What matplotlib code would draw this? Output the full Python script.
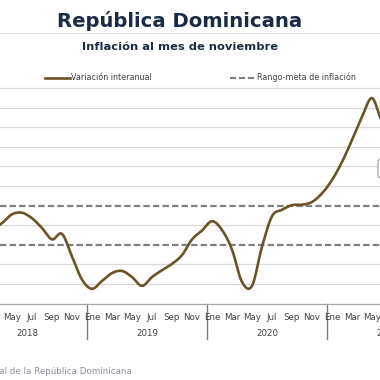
import matplotlib
matplotlib.use('Agg')
import matplotlib.pyplot as plt
import matplotlib.transforms as mtransforms
from matplotlib.lines import Line2D
from matplotlib.patches import FancyBboxPatch
import numpy as np

# ---------------- data ----------------
years = ['2018', '2019', '2020', '2021']
month_labels = ['Ene', 'Mar', 'May', 'Jul', 'Sep', 'Nov']
inflation_2018 = [4.20, 3.95, 3.80, 4.10, 4.55, 4.63, 4.35, 3.85, 3.27, 3.55, 2.40, 1.22]
inflation_2019 = [0.75, 1.15, 1.55, 1.66, 1.35, 0.90, 1.35, 1.70, 2.02, 2.47, 3.27, 3.72]
inflation_2020 = [4.20, 3.75, 2.75, 1.10, 0.90, 2.90, 4.45, 4.78, 5.02, 5.04, 5.18, 5.62]
inflation_2021 = [6.30, 7.22, 8.34, 9.52, 10.48, 9.32, 9.10]
target_low = 3.0
target_high = 5.0
grid_values = [1, 2, 4, 6, 7, 8, 9, 10, 11]
title = 'República Dominicana'
subtitle = 'Inflación al mes de noviembre'
legend_labels = ['Variación interanual', 'Rango-meta de inflación']
source = 'Fuente: Banco Central de la República Dominicana'

values = inflation_2018 + inflation_2019 + inflation_2020 + inflation_2021
idx = np.arange(len(values))

# ---------------- style ----------------
W = H = 380
BROWN = '#6b5426'
NAVY = '#1c2b45'
GRID = '#d9d9d9'
DASH = '#808080'
TXT = '#404040'

fig = plt.figure(figsize=(3.8, 3.8), dpi=100)
fig.patch.set_facecolor('white')

def fy(y):
    return 1 - y / H

# axes geometry in pixels
ax_top, ax_bot = 84.0, 303.5
px_per_unit = 19.6
ax = fig.add_axes([0, fy(ax_bot), 1, (ax_bot - ax_top) / H])
ax.set_xlim(2.8, 40.8)
ax.set_ylim(0, (ax_bot - ax_top) / px_per_unit)
for s in ['top', 'left', 'right']:
    ax.spines[s].set_visible(False)
ax.spines['bottom'].set_color('#a6a6a6')
ax.spines['bottom'].set_linewidth(0.9)
ax.set_xticks([])
ax.set_yticks([])

for g in grid_values:
    ax.axhline(g, color=GRID, lw=0.9, zorder=1)
for g in [target_low, target_high]:
    ax.axhline(g, color=DASH, lw=1.6, dashes=(2.9, 1.4), zorder=2)

def catmull_rom(x, y, n=20):
    x = np.asarray(x, float); y = np.asarray(y, float)
    xp = np.concatenate([[2 * x[0] - x[1]], x, [2 * x[-1] - x[-2]]])
    yp = np.concatenate([[2 * y[0] - y[1]], y, [2 * y[-1] - y[-2]]])
    xs, ys = [], []
    t = np.linspace(0, 1, n, endpoint=False)
    for i in range(1, len(xp) - 2):
        p0, p1, p2, p3 = [np.array([xp[j], yp[j]]) for j in (i - 1, i, i + 1, i + 2)]
        for tt in t:
            pt = 0.5 * ((2 * p1) + (-p0 + p2) * tt + (2 * p0 - 5 * p1 + 4 * p2 - p3) * tt ** 2
                        + (-p0 + 3 * p1 - 3 * p2 + p3) * tt ** 3)
            xs.append(pt[0]); ys.append(pt[1])
    xs.append(x[-1]); ys.append(y[-1])
    return np.array(xs), np.array(ys)

sx, sy = catmull_rom(idx, values)
ax.plot(sx, sy, color=BROWN, lw=1.9, solid_capstyle='round', zorder=3)

# x-axis labels
trans = mtransforms.blended_transform_factory(ax.transData, fig.transFigure)
probe = fig.text(0, 0, '2018')
fig.canvas.draw()
r = fig.canvas.get_renderer()
w = probe.get_window_extent(r).width
tick_fs = 10 * 22.0 / w if False else probe.get_fontsize() * 22.0 / w
probe.remove()

for k, yr in enumerate(years):
    for m, lab in enumerate(month_labels):
        ax.text(12 * k + 2 * m, fy(317), lab, transform=trans, ha='center', va='center',
                fontsize=tick_fs, color=TXT, clip_on=False)
    ax.text(12 * k + 5.5, fy(334), yr, transform=trans, ha='center', va='center',
            fontsize=tick_fs, color=TXT, clip_on=False)
for k in range(len(years) + 1):
    ax.add_line(Line2D([12 * k - 0.5] * 2, [fy(ax_bot), fy(339)], transform=trans,
                       color='#7f7f7f', lw=1.0, clip_on=False))

# texts
def fit(t, width_px):
    fig.canvas.draw()
    rr = fig.canvas.get_renderer()
    for _ in range(2):
        ww = t.get_window_extent(rr).width
        t.set_fontsize(t.get_fontsize() * width_px / ww)
        fig.canvas.draw()

t1 = fig.text(180 / W, fy(26.7), title, ha='center', va='baseline', fontsize=18,
              fontweight='bold', color=NAVY)
fit(t1, 246)
fig.add_artist(Line2D([0, 1], [fy(33.3)] * 2, color='#e3e3e3', lw=0.9))
t2 = fig.text(180.5 / W, fy(50), subtitle, ha='center', va='baseline', fontsize=9,
              fontweight='bold', color=NAVY)
fit(t2, 195)

# legend
fig.add_artist(Line2D([45 / W, 70 / W], [fy(78)] * 2, color=BROWN, lw=1.9))
l1 = fig.text(71 / W, fy(77), legend_labels[0], ha='left', va='center', fontsize=6, color=TXT)
fit(l1, 81)
fig.add_artist(Line2D([230 / W, 255 / W], [fy(77.5)] * 2, color=DASH, lw=1.5, dashes=(2.9, 1.4)))
l2 = fig.text(257 / W, fy(77), legend_labels[1], ha='left', va='center', fontsize=6, color=TXT)
fit(l2, 106)
l2.set_fontsize(l1.get_fontsize())

# source (cropped at left)
sp = fig.text(0, 0, 'al de la República Dominicana', fontsize=6)
fit(sp, 132)
src_fs = sp.get_fontsize()
sp.remove()
fig.text(132 / W, fy(371), source, ha='right', va='center', fontsize=src_fs, color='#8c8f9e')

# partially visible label box at right edge
box = FancyBboxPatch((378 / W, fy(178)), 30 / W, 19 / H,
                     boxstyle='round,pad=0,rounding_size=0.008', transform=fig.transFigure,
                     ec='#a6a6a6', fc='white', lw=0.9, zorder=5)
fig.add_artist(box)

fig.savefig('out.png', dpi=100)
